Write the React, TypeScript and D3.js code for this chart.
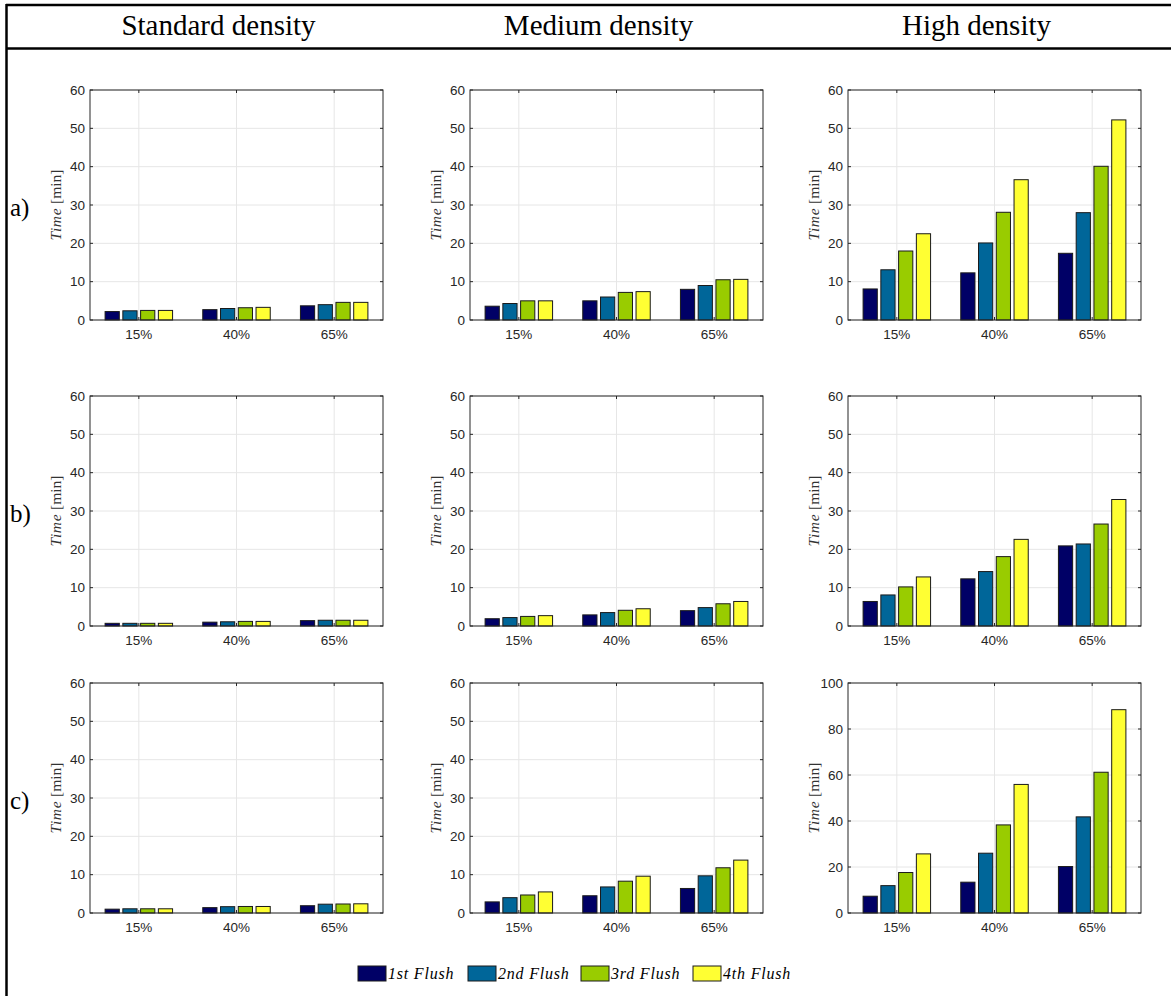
import React, { useEffect, useRef } from 'react';
import * as d3 from 'd3';

// column headers, row labels, categories and series
const densities = ['Standard density', 'Medium density', 'High density'];
const rowLabels = ['a)', 'b)', 'c)'];
const categories = ['15%', '40%', '65%'];
const seriesNames = ['1st Flush', '2nd Flush', '3rd Flush', '4th Flush'];
const seriesColours = ['#000066', '#006699', '#99cc00', '#ffff33'];

// values per panel: one row per category, one value per flush [min]
const standardA = [[2.2, 2.4, 2.5, 2.5], [2.7, 3.0, 3.2, 3.3], [3.7, 4.0, 4.6, 4.6]];
const mediumA = [[3.6, 4.3, 5.0, 5.0], [5.0, 6.0, 7.2, 7.4], [8.0, 9.0, 10.5, 10.6]];
const highA = [[8.1, 13.1, 18.0, 22.5], [12.3, 20.1, 28.1, 36.6], [17.4, 28.0, 40.1, 52.2]];

const standardB = [[0.7, 0.7, 0.7, 0.7], [1.0, 1.1, 1.2, 1.2], [1.4, 1.5, 1.5, 1.5]];
const mediumB = [[1.9, 2.2, 2.5, 2.7], [2.9, 3.5, 4.1, 4.5], [4.0, 4.8, 5.8, 6.4]];
const highB = [[6.4, 8.1, 10.2, 12.8], [12.3, 14.2, 18.1, 22.6], [20.9, 21.4, 26.6, 33.0]];

const standardC = [[1.0, 1.1, 1.1, 1.1], [1.4, 1.65, 1.7, 1.7], [1.9, 2.3, 2.35, 2.4]];
const mediumC = [[2.9, 4.0, 4.7, 5.5], [4.5, 6.8, 8.3, 9.6], [6.4, 9.7, 11.8, 13.8]];
const highC = [[7.3, 11.9, 17.6, 25.7], [13.4, 26.0, 38.3, 55.9], [20.2, 41.8, 61.2, 88.4]];

const panelValues = [
    [standardA, mediumA, highA],
    [standardB, mediumB, highB],
    [standardC, mediumC, highC]
];
const yMaxes = [
    [60, 60, 60],
    [60, 60, 60],
    [60, 60, 100]
];

const WIDTH = 1171;
const HEIGHT = 996;
const colLeft = [90, 470, 848];
const rowTop = [90, 396, 683];
const plotW = 293;
const plotH = 230;

const serif = '"Liberation Serif", "Times New Roman", serif';
const sans = '"Liberation Sans", Arial, sans-serif';
const axisColour = '#262626';
const gridColour = '#e6e6e6';

export default function App() {
    const canvas = useRef<HTMLDivElement>(null);

    useEffect(() => {
        document.body.style.margin = '0';
        const root = d3.select(canvas.current);
        root.selectAll('*').remove();

        const svg = root.append('svg')
            .attr('width', WIDTH)
            .attr('height', HEIGHT)
            .style('display', 'block')
            .style('background', '#fff');

        // table frame
        svg.append('line').attr('x1', 6).attr('x2', WIDTH).attr('y1', 5).attr('y2', 5)
            .attr('stroke', '#000').attr('stroke-width', 2.5);
        svg.append('line').attr('x1', 6).attr('x2', WIDTH).attr('y1', 48.5).attr('y2', 48.5)
            .attr('stroke', '#000').attr('stroke-width', 2.5);
        svg.append('line').attr('x1', 6.5).attr('x2', 6.5).attr('y1', 4).attr('y2', HEIGHT)
            .attr('stroke', '#000').attr('stroke-width', 2.5);

        // headers
        densities.forEach((d, i) => {
            svg.append('text')
                .attr('x', colLeft[i] + plotW / 2 - 18)
                .attr('y', 35)
                .attr('text-anchor', 'middle')
                .attr('font-family', serif)
                .attr('font-size', 29)
                .attr('fill', '#000')
                .text(d);
        });

        // row labels
        rowLabels.forEach((r, i) => {
            svg.append('text')
                .attr('x', 10)
                .attr('y', rowTop[i] + plotH / 2 + 11)
                .attr('font-family', serif)
                .attr('font-size', 25)
                .attr('fill', '#000')
                .text(r);
        });

        const groupWidth = Math.min(0.8, seriesNames.length / (seriesNames.length + 1.5));
        const pitch = groupWidth / seriesNames.length;
        const barWidth = 0.8 * pitch;

        panelValues.forEach((row, ri) => {
            row.forEach((values, ci) => {
                const g = svg.append('g')
                    .attr('transform', 'translate(' + [colLeft[ci], rowTop[ri]] + ')');

                const xScale = d3.scaleLinear()
                    .domain([0.5, categories.length + 0.5])
                    .range([0, plotW]);
                const yScale = d3.scaleLinear()
                    .domain([0, yMaxes[ri][ci]])
                    .range([plotH, 0]);
                const yTicks = yScale.ticks(6);

                // grid
                g.selectAll('.xgrid')
                    .data(categories)
                    .enter().append('line')
                    .attr('x1', (d: string, i: number) => xScale(i + 1))
                    .attr('x2', (d: string, i: number) => xScale(i + 1))
                    .attr('y1', 0)
                    .attr('y2', plotH)
                    .attr('stroke', gridColour);
                g.selectAll('.ygrid')
                    .data(yTicks)
                    .enter().append('line')
                    .attr('x1', 0)
                    .attr('x2', plotW)
                    .attr('y1', (d: number) => yScale(d))
                    .attr('y2', (d: number) => yScale(d))
                    .attr('stroke', gridColour);

                // bars
                values.forEach((vals, cat) => {
                    g.selectAll('.bar' + cat)
                        .data(vals)
                        .enter().append('rect')
                        .attr('x', (d: number, j: number) =>
                            xScale(cat + 1 + (j - (seriesNames.length - 1) / 2) * pitch - barWidth / 2))
                        .attr('width', xScale(barWidth) - xScale(0))
                        .attr('y', (d: number) => yScale(d))
                        .attr('height', (d: number) => plotH - yScale(d))
                        .attr('fill', (d: number, j: number) => seriesColours[j])
                        .attr('stroke', '#1a1a1a')
                        .attr('stroke-width', 1);
                });

                // box
                g.append('rect')
                    .attr('x', 0).attr('y', 0)
                    .attr('width', plotW).attr('height', plotH)
                    .attr('fill', 'none')
                    .attr('stroke', axisColour)
                    .attr('stroke-width', 1);

                // inward ticks
                const tickLen = 3;
                categories.forEach((c, i) => {
                    const x = xScale(i + 1);
                    g.append('line').attr('x1', x).attr('x2', x).attr('y1', plotH).attr('y2', plotH - tickLen)
                        .attr('stroke', axisColour);
                    g.append('line').attr('x1', x).attr('x2', x).attr('y1', 0).attr('y2', tickLen)
                        .attr('stroke', axisColour);
                    g.append('text')
                        .attr('x', x)
                        .attr('y', plotH + 19)
                        .attr('text-anchor', 'middle')
                        .attr('font-family', sans)
                        .attr('font-size', 13.5)
                        .attr('fill', axisColour)
                        .text(c);
                });
                yTicks.forEach((t: number) => {
                    const y = yScale(t);
                    g.append('line').attr('x1', 0).attr('x2', tickLen).attr('y1', y).attr('y2', y)
                        .attr('stroke', axisColour);
                    g.append('line').attr('x1', plotW).attr('x2', plotW - tickLen).attr('y1', y).attr('y2', y)
                        .attr('stroke', axisColour);
                    g.append('text')
                        .attr('x', -5)
                        .attr('y', y + 4.5)
                        .attr('text-anchor', 'end')
                        .attr('font-family', sans)
                        .attr('font-size', 13.5)
                        .attr('fill', axisColour)
                        .text(t);
                });

                // y label
                const label = g.append('text')
                    .attr('transform', 'translate(' + [-29, plotH / 2] + ') rotate(-90)')
                    .attr('text-anchor', 'middle')
                    .attr('font-family', serif)
                    .attr('font-size', 15.5)
                    .attr('fill', '#333');
                label.append('tspan').attr('font-style', 'italic').attr('letter-spacing', 0.6).text('Time');
                label.append('tspan').text(' [min]');
            });
        });

        // legend
        const legendX = [358, 468, 581, 693];
        const legend = svg.append('g');
        seriesNames.forEach((s, i) => {
            legend.append('rect')
                .attr('x', legendX[i])
                .attr('y', 966)
                .attr('width', 28)
                .attr('height', 15)
                .attr('fill', seriesColours[i])
                .attr('stroke', '#1a1a1a')
                .attr('stroke-width', 1);
            legend.append('text')
                .attr('x', legendX[i] + 30)
                .attr('y', 978.5)
                .attr('font-family', serif)
                .attr('font-style', 'italic')
                .attr('font-size', 16)
                .attr('letter-spacing', 0.8)
                .attr('fill', '#000')
                .text(s);
        });
    }, []);

    return (
        <div>
            <div className="chart" ref={canvas}></div>
        </div>
    );
}
